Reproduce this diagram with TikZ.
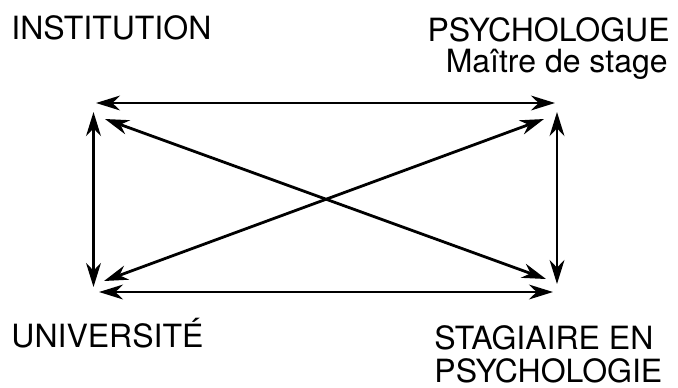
\documentclass[tikz,border=0pt]{standalone}
\usepackage{fontspec}
\setmainfont{TeX Gyre Heros}
\usetikzlibrary{arrows.meta}
\usetikzlibrary{positioning}
\newcommand{\partyfont}[0]{\fontsize{16}{16}\selectfont}

\begin{document}
\begin{tikzpicture}[x=0.5pt, y=-0.5pt,
    party/.style={inner sep=0pt, font=\partyfont},
    link/.style={line width=1.4pt, {Stealth[length=12pt, width=7.4pt, inset=3.8pt]}-{Stealth[length=12pt, width=7.4pt, inset=3.8pt]}}]
    \useasboundingbox (0,0) rectangle (678,387);
    % the four parties
    \node[party, anchor=base west] (institution) at (11,39) {INSTITUTION};
    \node[party, anchor=base east] (psychologue) at (670,41) {PSYCHOLOGUE};
    \node[party, anchor=base east] (maitre) at (668,72) {Maître de stage};
    \node[party, anchor=base west] (universite) at (11,347) {UNIVERSITÉ};
    \node[party, anchor=base west] (stagiaire) at (434,349) {STAGIAIRE EN};
    \node[party, anchor=base west] (psychologie) at (434,382) {PSYCHOLOGIE};
    % arrow ends
    \coordinate (inst-h) at (96,103);
    \coordinate (inst-v) at (93.5,112);
    \coordinate (inst-d) at (105,119);
    \coordinate (psy-h) at (555,103);
    \coordinate (psy-v) at (557,112);
    \coordinate (psy-d) at (544,119);
    \coordinate (univ-h) at (99,292);
    \coordinate (univ-v) at (93.5,287);
    \coordinate (univ-d) at (104,281);
    \coordinate (stag-h) at (553,292);
    \coordinate (stag-v) at (557,284);
    \coordinate (stag-d) at (546,279);
    % links
    \draw[link] (inst-h) -- (psy-h);
    \draw[link] (univ-h) -- (stag-h);
    \draw[link] (inst-v) -- (univ-v);
    \draw[link] (psy-v) -- (stag-v);
    \draw[link] (inst-d) -- (stag-d);
    \draw[link] (psy-d) -- (univ-d);
\end{tikzpicture}
\end{document}
